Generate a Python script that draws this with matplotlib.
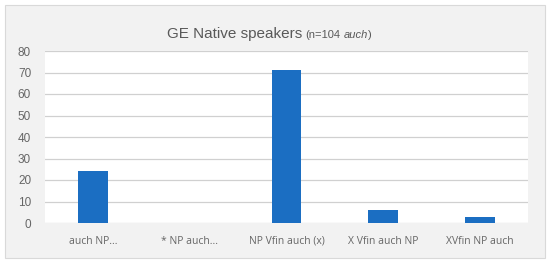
import matplotlib.pyplot as plt
from matplotlib.patches import Rectangle

categories = ["auch NP...", "* NP auch...", "NP Vfin auch (x)", "X Vfin auch NP", "XVfin NP auch"]
values = [24, 0, 71, 6, 3]
yticks = [0, 10, 20, 30, 40, 50, 60, 70, 80]

W, H = 550, 265
fig = plt.figure(figsize=(W / 100, H / 100), dpi=100)
fig.patch.set_facecolor("white")

# gray outer panel
fig.patches.append(Rectangle((5 / W, (H - 258) / H), 540 / W, 253 / H,
                             transform=fig.transFigure, facecolor="#f2f2f2",
                             edgecolor="#d9d9d9", linewidth=0.8, zorder=-10))

ax = fig.add_axes([45 / W, (H - 223) / H, (528 - 45) / W, (223 - 51) / H])
ax.set_facecolor("white")
x = range(len(categories))
ax.bar(x, values, width=0.31, color="#1b6ec2", zorder=3)
ax.set_xlim(-0.5, len(categories) - 0.5)
ax.set_ylim(0, 80)
ax.set_yticks(yticks)
ax.set_xticks(list(x))
ax.set_xticklabels(categories, fontsize=7.5, color="#666666", family="Open Sans")
ax.tick_params(axis="y", labelsize=8.5, labelcolor="#666666", length=0, pad=10)
ax.tick_params(axis="x", length=0, pad=9)
for t in ax.get_yticklabels():
    t.set_family("Liberation Sans")
ax.grid(axis="y", color="#d0d0d0", linewidth=0.9, zorder=0)
for s in ax.spines.values():
    s.set_visible(False)

t1 = fig.text(167 / W, (H - 38) / H, "GE Native speakers", fontsize=11,
              color="#595959", family="Liberation Sans", va="baseline")
t2 = fig.text(0, 0, "(n=104", fontsize=8, color="#595959",
              family="Liberation Sans", va="baseline")
t3 = fig.text(0, 0, "auch", fontsize=8, style="italic", color="#595959",
              family="Liberation Sans", va="baseline")
t4 = fig.text(0, 0, ")", fontsize=8, color="#595959",
              family="Liberation Sans", va="baseline")

# chain the title pieces left to right
fig.canvas.draw()
r = fig.canvas.get_renderer()
prev = t1
for t, gap in ((t2, 3), (t3, 3), (t4, 0)):
    bb = prev.get_window_extent(r)
    t.set_position(((bb.x1 + gap) / W, (H - 38) / H))
    prev = t

fig.savefig("out.png", dpi=100, facecolor="white")
